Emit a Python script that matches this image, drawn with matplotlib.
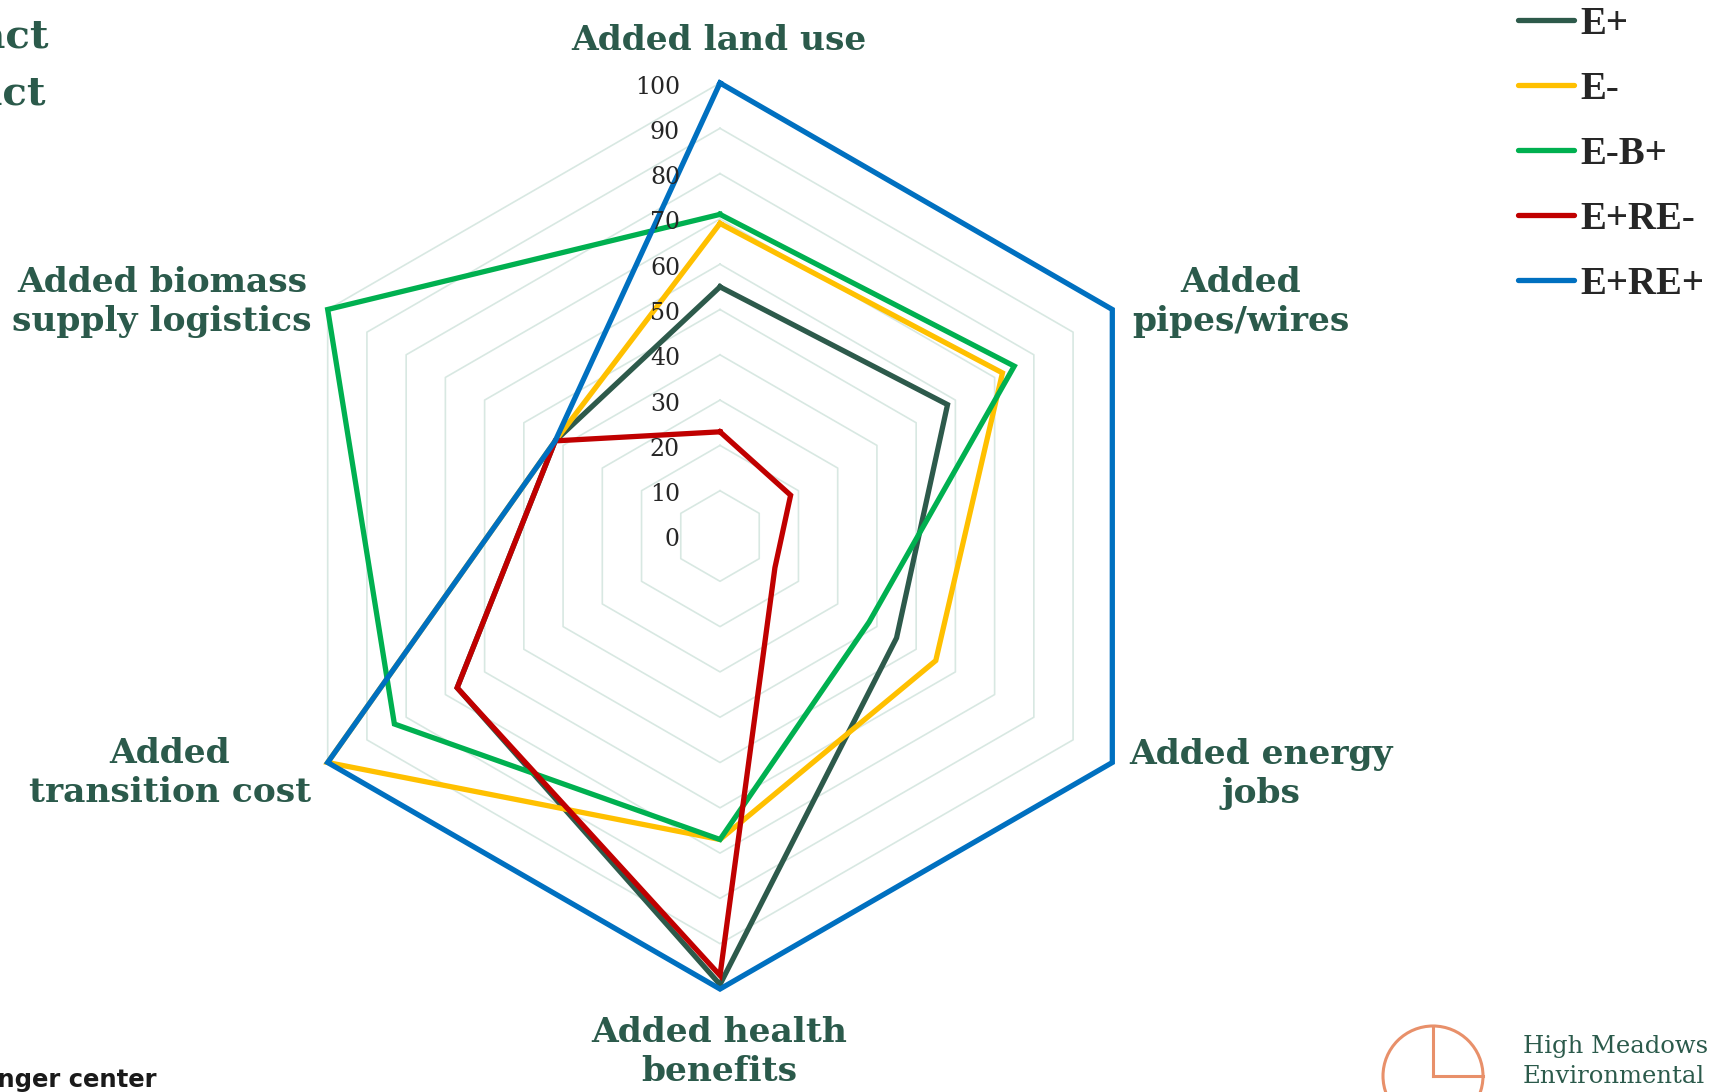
import numpy as np
import matplotlib
matplotlib.use("Agg")
import matplotlib.pyplot as plt
from matplotlib.lines import Line2D
from matplotlib.patches import Circle
from matplotlib.transforms import offset_copy

# Impact scores per category (0-100), one list per scenario
categories = ["Added land use", "Added\npipes/wires", "Added energy\njobs",
              "Added health\nbenefits", "Added\ntransition cost",
              "Added biomass\nsupply logistics"]
scenarios = ["E+", "E-", "E-B+", "E+RE-", "E+RE+"]
e_plus = [55, 58, 45, 99, 67, 42]
e_minus = [69, 72, 55, 67, 100, 42]
e_b_plus = [71, 75, 38, 67, 83, 100]
e_re_minus = [23, 18, 14, 97, 67, 42]
e_re_plus = [100, 100, 100, 100, 100, 42]
ticks = [0, 10, 20, 30, 40, 50, 60, 70, 80, 90, 100]

colors = ["#2d5a4b", "#ffc000", "#00b050", "#c00000", "#0070c0"]
series = [e_plus, e_minus, e_b_plus, e_re_minus, e_re_plus]

W, H = 1721, 1092
fig = plt.figure(figsize=(W / 100, H / 100), dpi=100)
fig.patch.set_facecolor("white")

# overlay in pixel units (origin top-left) for the loose slide text
over = fig.add_axes([0, 0, 1, 1])
over.set_xlim(0, W)
over.set_ylim(H, 0)
over.set_axis_off()

cx, cy, R = 720, 536, 453
ax = fig.add_axes([(cx - R) / W, (H - cy - R) / H, 2 * R / W, 2 * R / H],
                  projection="polar")
ax.set_theta_offset(np.pi / 2)
ax.set_theta_direction(-1)
ax.set_ylim(0, 100)
ax.set_axis_off()

n = len(categories)
angles = np.linspace(0, 2 * np.pi, n, endpoint=False)
closed = np.append(angles, angles[0])

# hexagonal grid rings
for v in ticks[1:]:
    ax.plot(closed, [v] * (n + 1), color="#d8e8e2", lw=1.2, zorder=1,
            clip_on=False)

for vals, c in zip(series, colors):
    ax.plot(closed, vals + vals[:1], color=c, lw=3.8, zorder=3,
            solid_joinstyle="miter", clip_on=False)

# radial tick labels left of the top spoke
tick_tr = offset_copy(ax.transData, fig=fig, x=-40, y=-4, units="dots")
for v in ticks:
    ax.text(0, v, str(v), transform=tick_tr, ha="right", va="center",
            fontsize=17, family="DejaVu Serif", color="#262626", zorder=4)

label_pos = [(719, 41), (1241, 302), (1261, 774), (719, 1052), (170, 773), (162, 302)]
for txt, (x, y) in zip(categories, label_pos):
    over.text(x, y, txt, ha="center", va="center", multialignment="center",
              fontsize=24.8, fontweight="bold", family="DejaVu Serif",
              color="#2b5a4b", linespacing=1.25)

handles = [Line2D([], [], color=c, lw=3.8, solid_capstyle="round") for c in colors]
fig.legend(handles, scenarios, loc="upper left", bbox_to_anchor=(1483 / W, 1 + 29 / H),
           frameon=False, handlelength=1.45, handletextpad=0.15, labelspacing=0.72,
           prop={"family": "Liberation Serif", "weight": "bold", "size": 28},
           labelcolor="#262626")

# slide fragments around the chart
over.text(48, 47, "Higher impact", ha="right", va="baseline", fontsize=29,
          fontweight="bold", family="DejaVu Serif", color="#2b5a4b")
over.text(45, 105, "Lower impact", ha="right", va="baseline", fontsize=29,
          fontweight="bold", family="DejaVu Serif", color="#2b5a4b")
over.text(157, 1087, "andlinger center", ha="right", va="baseline", fontsize=17.5,
          fontweight="bold", family="DejaVu Sans", color="#1a1a1a")

logo = "#e8906a"
over.add_patch(Circle((1433, 1076), 50, fill=False, ec=logo, lw=2.2))
over.plot([1433, 1433], [1026, 1076], color=logo, lw=2.2)
over.plot([1433, 1483], [1076, 1076], color=logo, lw=2.2)
over.text(1523, 1053, "High Meadows", ha="left", va="baseline", fontsize=17.5,
          family="DejaVu Serif", color="#2b5a4b")
over.text(1523, 1083, "Environmental", ha="left", va="baseline", fontsize=17.5,
          family="DejaVu Serif", color="#2b5a4b")

fig.savefig("out.png", dpi=100, facecolor="white")
